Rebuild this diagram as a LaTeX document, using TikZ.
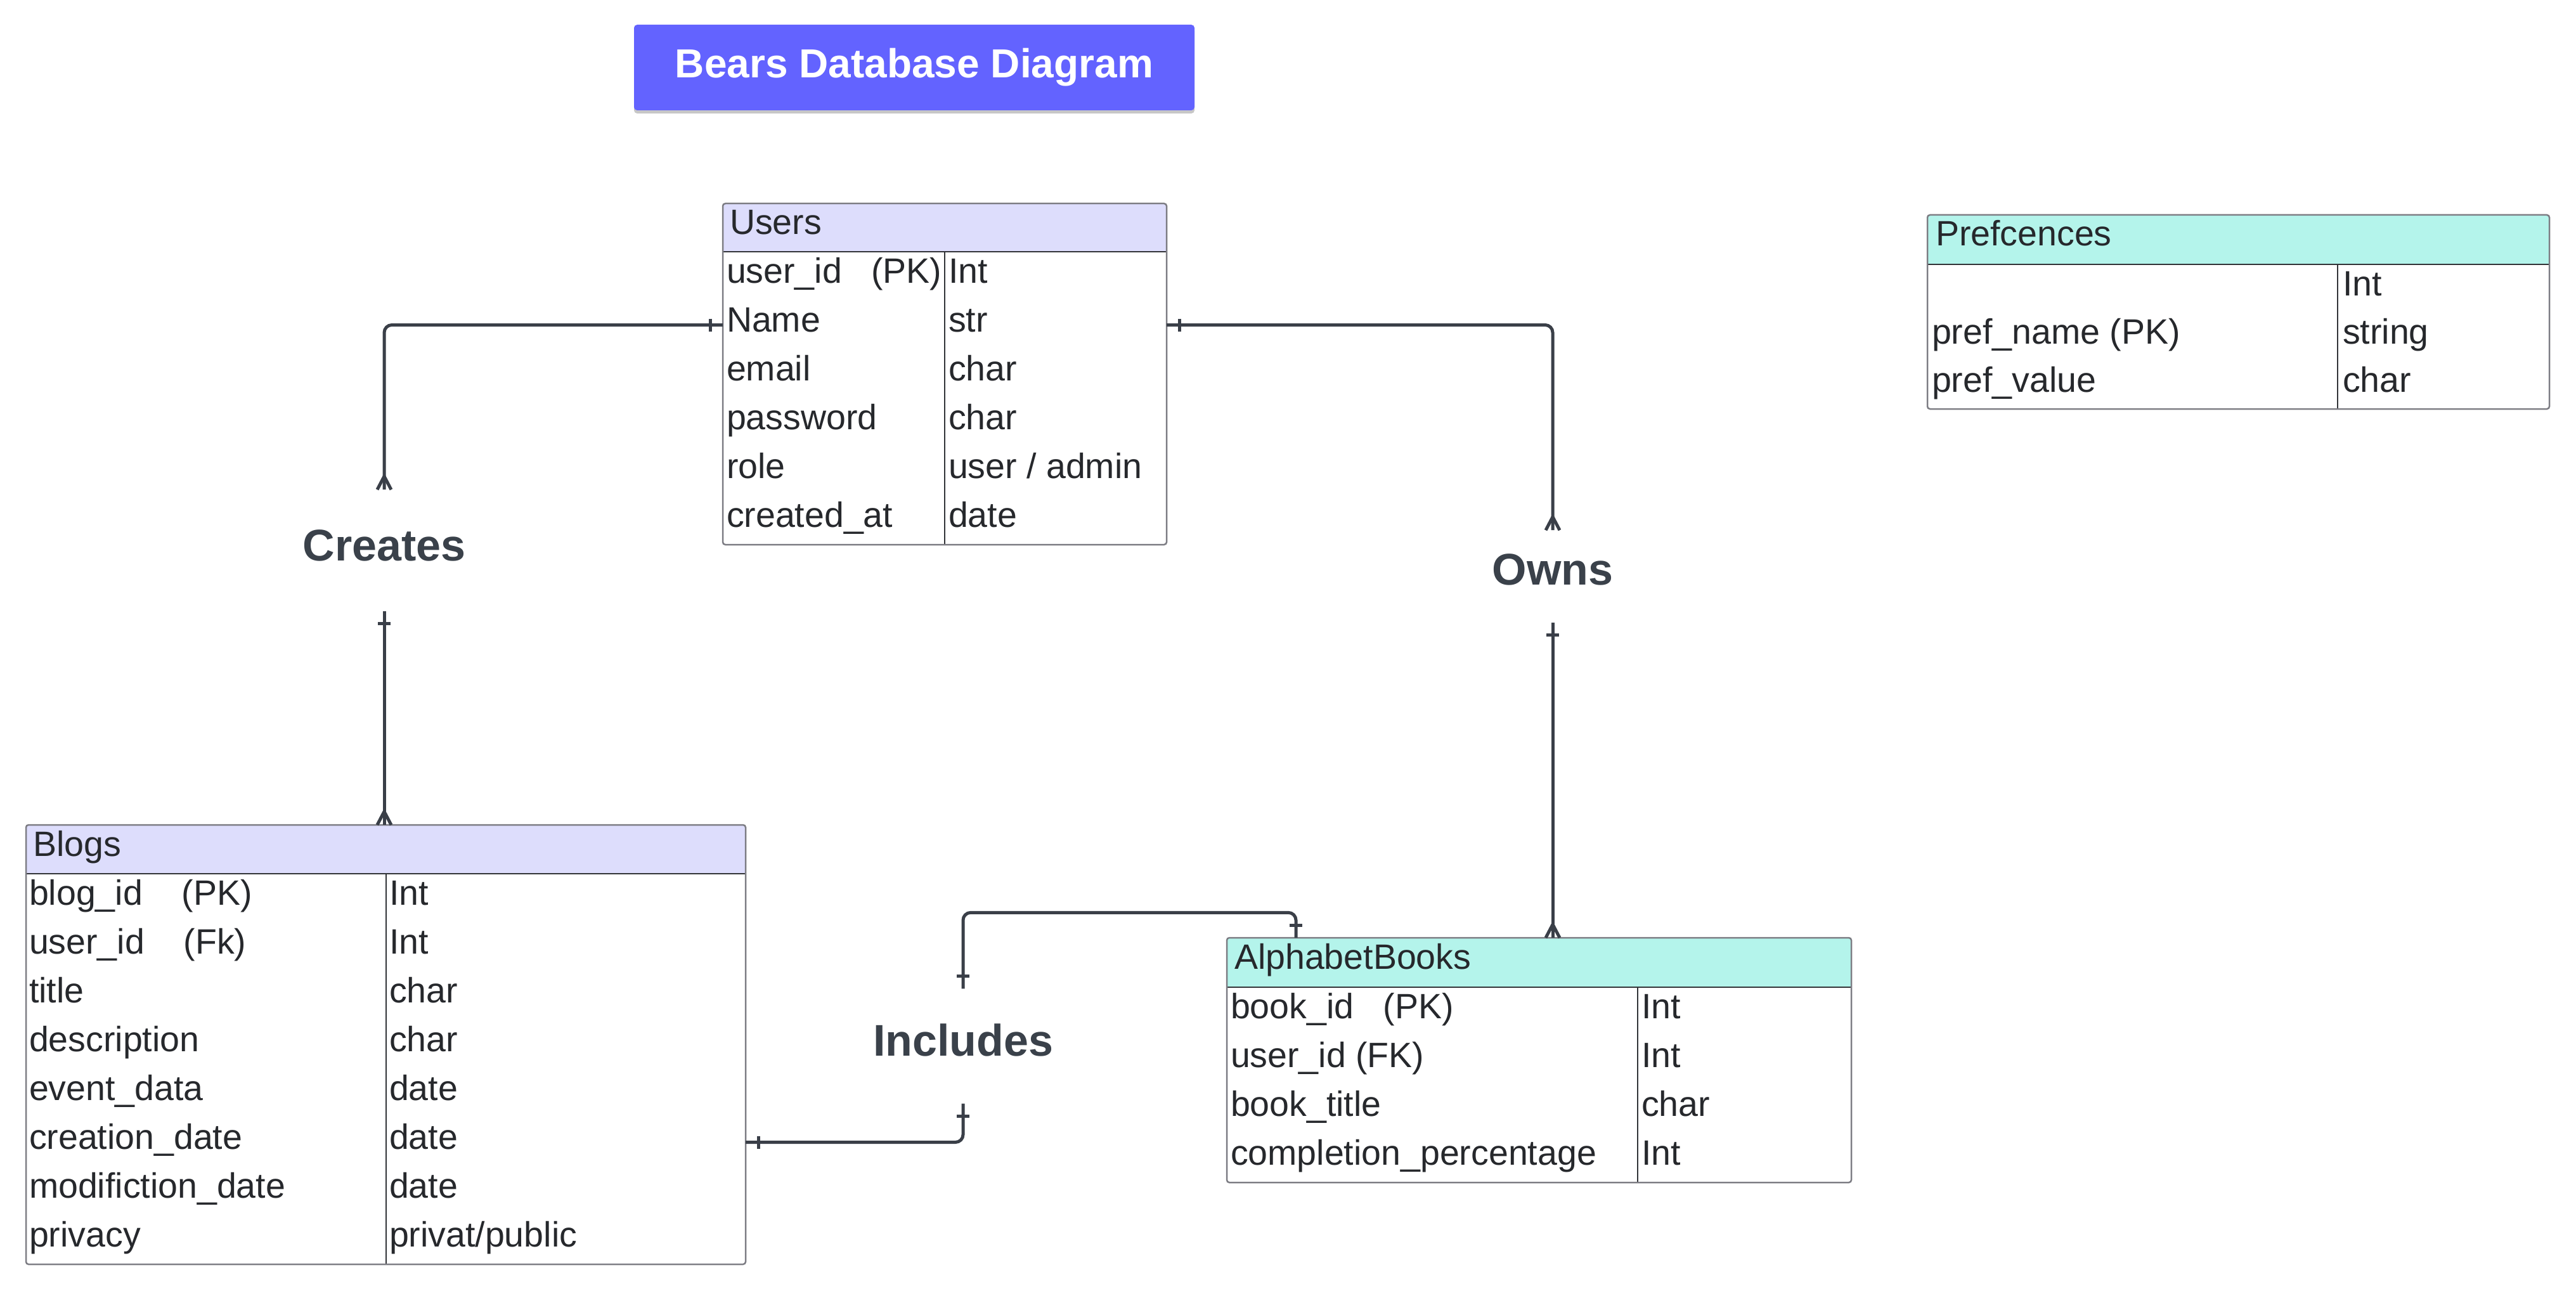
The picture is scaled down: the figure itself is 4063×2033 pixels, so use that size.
\documentclass[tikz,border=0pt]{standalone}
\usepackage{fontspec}
\setmainfont{Liberation Sans}
\usetikzlibrary{calc,shadows}
\definecolor{lav}{RGB}{221,221,252}
\definecolor{teal}{RGB}{180,244,235}
\definecolor{ttl}{RGB}{99,99,255}
\definecolor{txt}{RGB}{38,40,44}
\definecolor{lbl}{RGB}{58,65,74}
\definecolor{conncol}{RGB}{58,63,72}
\definecolor{bordcol}{RGB}{125,125,132}
\definecolor{sepcol}{RGB}{50,52,56}
\tikzset{
  celltext/.style={anchor=base west, inner sep=0pt, outer sep=0pt, text=txt, font=\fontsize{55.5}{66}\selectfont},
  rel/.style={inner sep=0pt, outer sep=0pt, text=lbl, font=\fontsize{70}{84}\selectfont\bfseries},
  conn/.style={draw=conncol, line width=5pt, rounded corners=12pt},
  tblframe/.style={draw=none, inner sep=0pt, outer sep=0pt},
  tblborder/.style={draw=bordcol, line width=2.5pt, rounded corners=4pt},
  hdrsep/.style={draw=sepcol, line width=2pt},
  colsep/.style={draw=sepcol, line width=1.5pt},
  titlebox/.style={fill=ttl, rounded corners=5pt, minimum width=884pt, minimum height=135pt, inner sep=0pt,
    text=white, font=\fontsize{64}{76}\selectfont\bfseries,
    drop shadow={shadow xshift=0pt, shadow yshift=-5pt, opacity=0.22, fill=black}},
  tickv/.pic={\draw[conncol, line width=5pt] (-10,0) -- (10,0);},
  tickh/.pic={\draw[conncol, line width=5pt] (0,-10) -- (0,10);},
  crowdown/.pic={\draw[conncol, line width=5pt] (0,-21) -- (-11,0) (0,-21) -- (11,0);},
}
\newcommand{\erdframe}[8]{%
  \path[fill=white, rounded corners=4pt] (#2,#3) rectangle (#4,#6);
  \begin{scope}
    \clip[rounded corners=4pt] (#2,#3) rectangle (#4,#6);
    \fill[#7] (#2,#3) rectangle (#4,#5);
  \end{scope}
  \draw[hdrsep] (#2,#5) -- (#4,#5);
  \draw[colsep] (#8,#5) -- (#8,#6);
  \draw[tblborder] (#2,#3) rectangle (#4,#6);
  \node[tblframe, minimum width={#4-#2}, minimum height={#6-#3}, anchor=north west] (#1) at (#2,#3) {};
}
\newcommand{\erdrow}[6]{%
  \node[celltext] (#1a) at (#2,#4) {#5};
  \node[celltext] (#1b) at (#3,#4) {#6};
}
\begin{document}
\begin{tikzpicture}[x=1pt, y=-1pt]
\useasboundingbox (0,0) rectangle (4063,2033);
\fill[white] (0,0) rectangle (4063,2033);

% title
\node[titlebox] (title) at (1442,106.5) {Bears Database Diagram};

% Users
\erdframe{users}{1140}{321}{1840}{397}{859}{lav}{1490}
\node[celltext] (users-h) at (1151,370) {Users};
\erdrow{users-1}{1146}{1496}{446}{user\_id\ \ \ (PK)}{Int}
\erdrow{users-2}{1146}{1496}{523}{Name}{str}
\erdrow{users-3}{1146}{1496}{600}{email}{char}
\erdrow{users-4}{1146}{1496}{677}{password}{char}
\erdrow{users-5}{1146}{1496}{754}{role}{user / admin}
\erdrow{users-6}{1146}{1496}{831}{created\_at}{date}
\node[tblframe, minimum width=700pt, minimum height=77pt, anchor=north west] (users-r2) at (1140,474) {};

% Blogs
\erdframe{blogs}{41}{1301}{1176}{1378}{1994}{lav}{609}
\node[celltext] (blogs-h) at (52,1350) {Blogs};
\erdrow{blogs-1}{46}{614}{1427}{blog\_id\ \ \ \ (PK)}{Int}
\erdrow{blogs-2}{46}{614}{1504}{user\_id\ \ \ \ (Fk)}{Int}
\erdrow{blogs-3}{46}{614}{1581}{title}{char}
\erdrow{blogs-4}{46}{614}{1658}{description}{char}
\erdrow{blogs-5}{46}{614}{1735}{event\_data}{date}
\erdrow{blogs-6}{46}{614}{1812}{creation\_date}{date}
\erdrow{blogs-7}{46}{614}{1889}{modifiction\_date}{date}
\erdrow{blogs-8}{46}{614}{1966}{privacy}{privat/public}
\node[tblframe, minimum width=1135pt, minimum height=77pt, anchor=north west] (blogs-r6) at (41,1763) {};

% AlphabetBooks
\erdframe{alpha}{1935}{1479}{2920}{1557}{1865}{teal}{2583}
\node[celltext] (alpha-h) at (1947,1528) {AlphabetBooks};
\erdrow{alpha-1}{1941}{2589}{1606}{book\_id\ \ \ (PK)}{Int}
\erdrow{alpha-2}{1941}{2589}{1683}{user\_id (FK)}{Int}
\erdrow{alpha-3}{1941}{2589}{1760}{book\_title}{char}
\erdrow{alpha-4}{1941}{2589}{1837}{completion\_percentage}{Int}

% Prefcences
\erdframe{pref}{3040}{339}{4021}{417}{645}{teal}{3687}
\node[celltext] (pref-h) at (3053,388) {Prefcences};
\erdrow{pref-1}{3047}{3695}{466}{}{Int}
\erdrow{pref-2}{3047}{3695}{542}{pref\_name (PK)}{string}
\erdrow{pref-3}{3047}{3695}{618}{pref\_value}{char}

% relationship labels
\node[rel] (creates) at (606,860) {Creates};
\node[rel] (owns) at (2449,898) {Owns};
\node[rel] (includes) at (1519,1640) {Includes};

% Users -> Creates
\draw[conn] (users-r2.west) -| ([yshift=63pt]creates.north);
\pic at ($(users-r2.west)+(-20,0)$) {tickh};
\pic at ([yshift=63pt]creates.north) {crowdown};

% Creates -> Blogs
\draw[conn] ([yshift=-79pt]creates.south) -- (creates.south |- blogs.north);
\pic at ([yshift=-99pt]creates.south) {tickv};
\pic at (creates.south |- blogs.north) {crowdown};

% Users -> Owns
\draw[conn] (users-r2.east) -| ([yshift=37pt]owns.north);
\pic at ($(users-r2.east)+(20,0)$) {tickh};
\pic at ([yshift=37pt]owns.north) {crowdown};

% Owns -> AlphabetBooks
\draw[conn] ([yshift=-59pt]owns.south) -- (owns.south |- alpha.north);
\pic at ([yshift=-79pt]owns.south) {tickv};
\pic at (owns.south |- alpha.north) {crowdown};

% Blogs -> Includes
\draw[conn] (blogs-r6.east) -| ([yshift=-75pt]includes.south);
\pic at ($(blogs-r6.east)+(20,0)$) {tickh};
\pic at ([yshift=-95pt]includes.south) {tickv};

% Includes -> AlphabetBooks
\coordinate (alpha-in) at ($(alpha.north west)+(109,0)$);
\draw[conn] ([yshift=55pt]includes.north) -- ++(0,-120) -| (alpha-in);
\pic at ([yshift=75pt]includes.north) {tickv};
\pic at ($(alpha-in)+(0,-20)$) {tickv};
\end{tikzpicture}
\end{document}
